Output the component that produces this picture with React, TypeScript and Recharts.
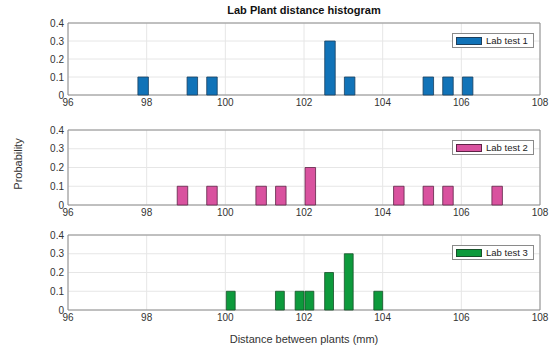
import { BarChart, Bar, XAxis, YAxis, CartesianGrid, ReferenceArea, Legend } from 'recharts';

const xTicks = [96, 98, 100, 102, 104, 106, 108];
const yTicks = [0, 0.1, 0.2, 0.3, 0.4];

const test1Bins = [97.9, 99.15, 99.65, 102.65, 103.15, 105.15, 105.65, 106.15];
const test1Prob = [0.1, 0.1, 0.1, 0.3, 0.1, 0.1, 0.1, 0.1];
const test2Bins = [98.9, 99.65, 100.9, 101.4, 102.15, 104.4, 105.15, 105.65, 106.9];
const test2Prob = [0.1, 0.1, 0.1, 0.1, 0.2, 0.1, 0.1, 0.1, 0.1];
const test3Bins = [100.15, 101.4, 101.9, 102.15, 102.65, 103.15, 103.9];
const test3Prob = [0.1, 0.1, 0.1, 0.1, 0.2, 0.3, 0.1];

const FONT = 'Liberation Sans, Arial, sans-serif';

interface PanelProps {
  name: string;
  bins: number[];
  probs: number[];
  fill: string;
  edge: string;
  top: number;
  plotH: number;
}

function Panel({ name, bins, probs, fill, edge, top, plotH }: PanelProps) {
  const data = bins.map((x, i) => ({ x, p: probs[i] }));
  const mTop = 5;
  const renderLegend = () => (
    <div
      style={{
        display: 'flex',
        alignItems: 'center',
        border: '1px solid #8a8a8a',
        background: '#fff',
        height: 15,
        width: 82,
        boxSizing: 'border-box',
        padding: '0 3px',
        fontFamily: FONT,
        fontSize: 9.5,
        color: '#222',
      }}
    >
      <span style={{ width: 26, height: 8, background: fill, border: `1px solid ${edge}`, marginRight: 4, boxSizing: 'border-box' }} />
      <span>{name}</span>
    </div>
  );
  return (
    <div style={{ position: 'absolute', left: 0, top: top - mTop }}>
      <BarChart width={549} height={mTop + plotH + 18} data={data} margin={{ top: mTop, right: 9, left: 38, bottom: 0 }}>
        <CartesianGrid stroke="#e6e6e6" horizontalValues={yTicks} verticalValues={xTicks} />
        <XAxis
          dataKey="x"
          type="number"
          domain={[96, 108]}
          ticks={xTicks}
          interval={0}
          height={18}
          tickLine={false}
          axisLine={false}
          tickSize={3}
          tickMargin={1}
          tick={{ fontSize: 10, fill: '#333', fontFamily: FONT }}
          allowDataOverflow
        />
        <YAxis
          type="number"
          domain={[0, 0.4]}
          ticks={yTicks}
          interval={0}
          width={30}
          tickLine={false}
          axisLine={false}
          tickSize={2}
          tickMargin={2}
          tickFormatter={(v: number) => (v === 0 ? '0' : v.toFixed(1))}
          tick={{ fontSize: 10, fill: '#333', fontFamily: FONT }}
        />
        <Bar dataKey="p" fill={fill} stroke={edge} strokeWidth={0.8} barSize={10.5} isAnimationActive={false} />
        <ReferenceArea x1={96} x2={108} y1={0} y2={0.4} fill="none" stroke="#8c8c8c" strokeWidth={1} ifOverflow="visible" />
        <Legend
          content={renderLegend}
          layout="horizontal"
          verticalAlign="middle"
          align="center"
          wrapperStyle={{ top: mTop + 10, left: 452, width: 82 }}
        />
      </BarChart>
    </div>
  );
}

export default function App() {
  return (
    <div style={{ position: 'absolute', left: 0, top: 0, width: 549, height: 350, background: '#fff', fontFamily: FONT }}>
      <div style={{ position: 'absolute', left: 68, width: 472, top: 4, textAlign: 'center', fontWeight: 'bold', fontSize: 11, color: '#111' }}>
        Lab Plant distance histogram
      </div>
      <Panel name="Lab test 1" bins={test1Bins} probs={test1Prob} fill="#1173b8" edge="#1b3f5e" top={23} plotH={72} />
      <Panel name="Lab test 2" bins={test2Bins} probs={test2Prob} fill="#d9529f" edge="#5e2346" top={130} plotH={75} />
      <Panel name="Lab test 3" bins={test3Bins} probs={test3Prob} fill="#0d9a3c" edge="#17502a" top={235} plotH={75} />
      <div
        style={{
          position: 'absolute',
          left: 18,
          top: 164,
          transform: 'translate(-50%, -50%) rotate(-90deg)',
          fontSize: 11,
          color: '#333',
          whiteSpace: 'nowrap',
        }}
      >
        Probability
      </div>
      <div style={{ position: 'absolute', left: 68, width: 472, top: 333, textAlign: 'center', fontSize: 11, color: '#333' }}>
        Distance between plants (mm)
      </div>
    </div>
  );
}
